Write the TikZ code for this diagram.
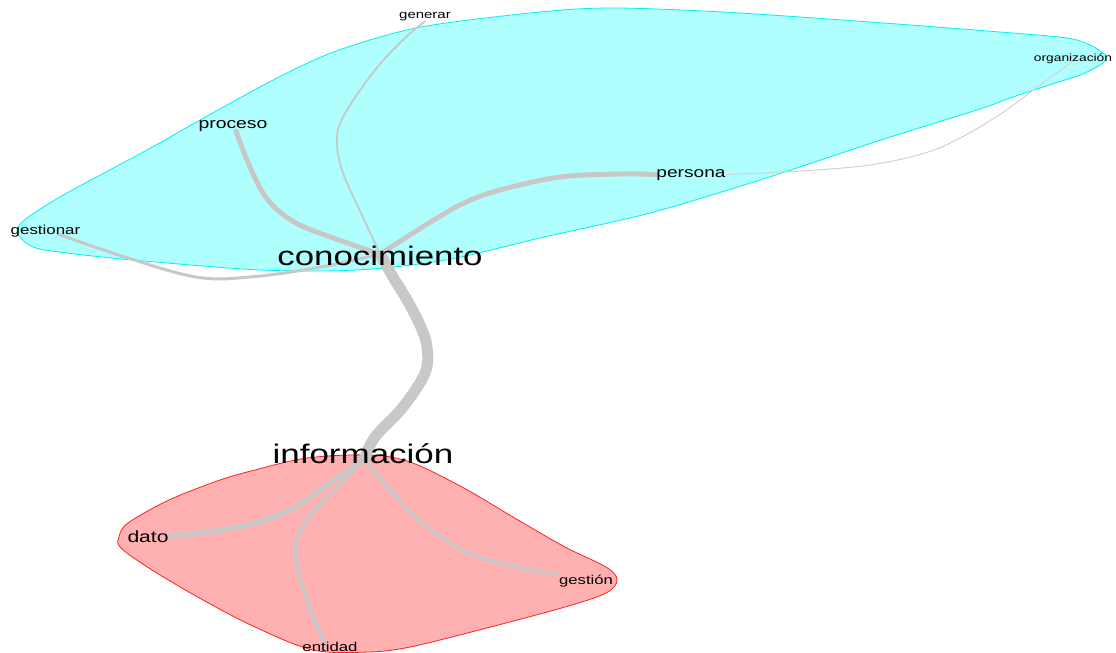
\documentclass[tikz,border=0pt]{standalone}
\usepackage{fontspec}
\setmainfont{Liberation Sans}
\usepackage{graphicx}
\definecolor{cyanfill}{HTML}{AFFFFF}
\definecolor{cyanline}{HTML}{00F0F0}
\definecolor{redfill}{HTML}{FFB1B1}
\definecolor{redline}{HTML}{FF2020}
\definecolor{edgegray}{HTML}{C8C8C8}
\definecolor{edgelight}{HTML}{D2D2D2}
\pgfdeclarelayer{paper}
\pgfdeclarelayer{hulls}
\pgfdeclarelayer{links}
\pgfsetlayers{paper,hulls,links,main}
\newcommand{\wide}[1]{\scalebox{1.3}[1]{#1}}
\tikzset{
  lab/.style={inner sep=0pt, outer sep=0pt, anchor=base, text=black,
              font=\fontsize{#1}{#1}\selectfont},
  link/.style={draw=edgegray, line join=round, line cap=round},
  hull/.style={line width=0.8pt},
}
\begin{document}
\begin{tikzpicture}[x=1pt, y=-1pt]
\begin{pgfonlayer}{paper}
\fill[white] (0,0) rectangle (1116,653);
\end{pgfonlayer}
\useasboundingbox (0,0) rectangle (1116,653);

% vertex positions of the two hubs
\coordinate (vCon) at (380,254);
\coordinate (vInf) at (364,460);

% word labels
\node[lab=26.8] (con) at (380,265) {\wide{conocimiento}};
\node[lab=26.9] (inf) at (363,463) {\wide{información}};
\node[lab=14.9] (proceso) at (233,128) {\wide{proceso}};
\node[lab=14.7] (persona) at (691,177) {\wide{persona}};
\node[lab=13] (gestionar) at (45.5,234) {\wide{gestionar}};
\node[lab=11.5] (generar) at (425,19) {\wide{generar}};
\node[lab=10.6] (organizacion) at (1073,61) {\wide{organización}};
\node[lab=16.2] (dato) at (148,542) {\wide{dato}};
\node[lab=12.8] (gestion) at (586,584) {\wide{gestión}};
\node[lab=12.9] (entidad) at (330,651) {\wide{entidad}};

% community hulls
\begin{pgfonlayer}{hulls}
\filldraw[hull, fill=cyanfill, draw=cyanline]
  plot[smooth cycle, tension=0.5] coordinates {
    (17,232) (27,218) (67,193) (147,150) (200,120) (279,77) (339,50)
    (421,27) (540,12) (613,8) (723,12) (870,22) (1000,32) (1067,38)
    (1090,45) (1103,53) (1107,58) (1100,65) (1080,75) (1040,88)
    (1010,98) (980,109) (881,140) (760,180) (650,213) (540,238)
    (446,260) (357,270) (260,270) (133,260) (67,253) (33,247)};
\filldraw[hull, fill=redfill, draw=redline]
  plot[smooth cycle, tension=0.55] coordinates {
    (255,470) (307,458) (369,455) (410,462) (462,487) (513,517)
    (565,547) (606,567) (617,580) (606,593) (565,607) (479,630)
    (410,647) (369,652) (313,650) (255,627) (203,600) (152,570)
    (121,548) (119,537) (128,523) (169,500) (220,480)};
\end{pgfonlayer}

% links between the words
\begin{pgfonlayer}{links}
\draw[link, line width=11pt, line cap=butt]
  plot[smooth, tension=0.6] coordinates {(vCon) (393,277) (407,300) (420,325)
    (427,347) (425,373) (403,407) (375,437) (vInf)};
\draw[link, line width=5pt]
  plot[smooth, tension=0.6] coordinates {(vCon) (339,240) (296,223) (268,200)
    (250,167) ([xshift=3pt]proceso.south)};
\draw[link, line width=1.8pt]
  plot[smooth, tension=0.6] coordinates {(vCon) (375,243) (361,213) (343,173)
    (337,143) (343,117) (375,70) (405,38) (generar.south)};
\draw[link, line width=5pt]
  plot[smooth, tension=0.6] coordinates {(vCon) (429,223) (464,203) (500,190)
    (560,177) (620,174) (persona.west)};
\draw[draw=edgelight, line width=1pt]
  plot[smooth, tension=0.6] coordinates {(persona.east) (800,171) (870,165)
    (925,153) (962,137) (1002,113) (1040,85) (organizacion.base)};
\draw[link, line width=3pt]
  plot[smooth, tension=0.6] coordinates {(vCon) (321,267) (250,277) (196,277)
    (125,257) ([xshift=12pt]gestionar.base)};
\draw[link, line width=5pt]
  plot[smooth, tension=0.6] coordinates {(vInf) (334,480) (289,510) (238,527)
    (dato.east)};
\draw[link, line width=4pt]
  plot[smooth, tension=0.6] coordinates {(vInf) (341,483) (307,520) (295,553)
    (307,600) ([xshift=-6pt]entidad.north)};
\draw[link, line width=3.5pt]
  plot[smooth, tension=0.6] coordinates {(vInf) (393,493) (427,527) (479,557)
    ([yshift=6pt]gestion.west)};
\end{pgfonlayer}
\end{tikzpicture}
\end{document}
